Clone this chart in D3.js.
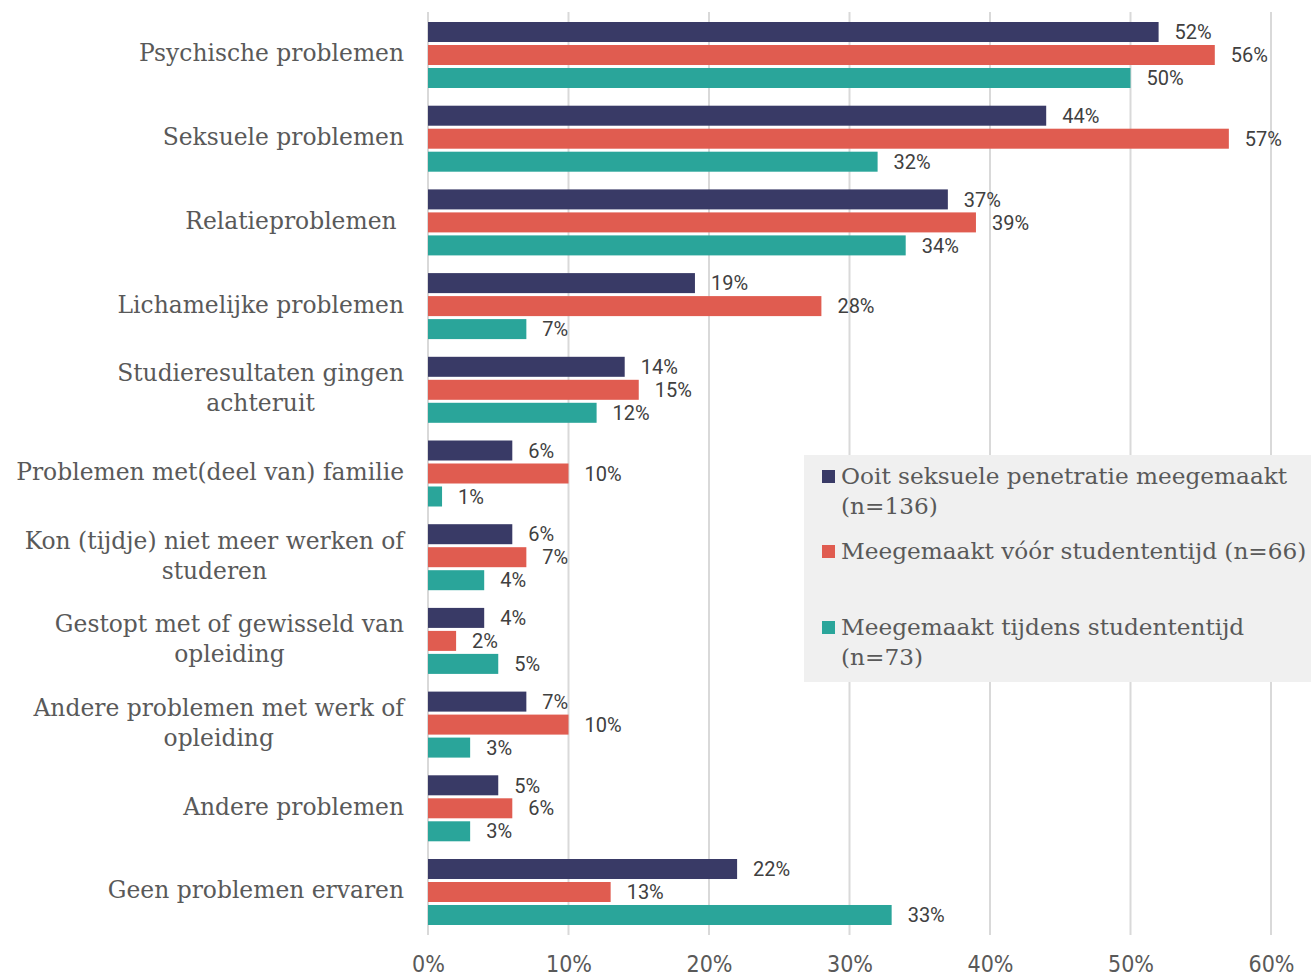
<!DOCTYPE html>
<html>
<head>
<meta charset="utf-8">
<script src="https://cdn.jsdelivr.net/npm/d3@7"></script>
<style>
  body { margin: 0; background: #fff; }
  .cat { font-family: 'DejaVu Serif', serif; font-size: 23.4px; fill: #595959; }
  .val { font-family: Roboto, 'Noto Sans', sans-serif; font-size: 20px; fill: #404040; }
  .tick text { font-family: 'Liberation Sans Narrow', 'DejaVu Sans Condensed', sans-serif; font-size: 23px; fill: #595959; }
  .leg { font-family: 'DejaVu Serif', serif; font-size: 23.2px; fill: #595959; }
</style>
</head>
<body>
<svg width="1311" height="976"></svg>
<script>
// categories (multi-line labels split with |)
var categories = [
    'Psychische problemen',
    'Seksuele problemen',
    'Relatieproblemen ',
    'Lichamelijke problemen',
    'Studieresultaten gingen|achteruit',
    'Problemen met(deel van) familie',
    'Kon (tijdje) niet meer werken of|studeren',
    'Gestopt met of gewisseld van|opleiding',
    'Andere problemen met werk of|opleiding',
    'Andere problemen',
    'Geen problemen ervaren'
];
var series = ['ooit', 'voor', 'tijdens'];
var seriesLabels = [
    'Ooit seksuele penetratie meegemaakt|(n=136)',
    'Meegemaakt vóór studententijd (n=66)',
    'Meegemaakt tijdens studententijd|(n=73)'
];
var colors = ['#393a66', '#e05c50', '#2aa59a'];
// values in percent
var ooit    = [52, 44, 37, 19, 14, 6, 6, 4, 7, 5, 22];
var voor    = [56, 57, 39, 28, 15, 10, 7, 2, 10, 6, 13];
var tijdens = [50, 32, 34, 7, 12, 1, 4, 5, 3, 3, 33];
var xTicks = [0, 10, 20, 30, 40, 50, 60];

var values = [ooit, voor, tijdens];
var svg = d3.select('svg');

var x = d3.scaleLinear().domain([0, 60]).range([428, 1271]);
var y0 = d3.scaleBand().domain(categories).range([4.3, 942.7]).padding(0.2115);
var y1 = d3.scaleBand().domain(series).range([0, y0.bandwidth()]).paddingInner(0.13);

// gridlines
svg.append('g').selectAll('line')
    .data(xTicks).enter().append('line')
    .attr('x1', d => x(d)).attr('x2', d => x(d))
    .attr('y1', 12).attr('y2', 935)
    .attr('stroke', '#d9d9d9').attr('stroke-width', 2);

// x axis labels
var xAxis = d3.axisBottom(x).tickValues(xTicks).tickSize(0).tickPadding(0)
    .tickFormat(d => d + '%');
var axG = svg.append('g').attr('transform', 'translate(0,956)').call(xAxis);
axG.select('.domain').remove();
axG.selectAll('text').attr('dy', '0.71em');

// bars
var groups = svg.append('g').selectAll('g')
    .data(categories).enter().append('g')
    .attr('transform', d => 'translate(0,' + y0(d) + ')');

groups.each(function(cat, ci) {
    var g = d3.select(this);
    series.forEach(function(s, si) {
        var v = values[si][ci];
        g.append('rect')
            .attr('x', x(0)).attr('y', y1(s))
            .attr('width', x(v) - x(0)).attr('height', y1.bandwidth())
            .attr('fill', colors[si]);
        g.append('text').attr('class', 'val')
            .attr('x', x(v) + 16).attr('y', y1(s) + y1.bandwidth() / 2)
            .attr('dy', '0.36em')
            .text(v + '%');
    });
    // category label
    var lines = cat.split('|');
    var lh = 30;
    var cy = y0.bandwidth() / 2 - 2;
    var t = g.append('text').attr('class', 'cat').attr('text-anchor', 'end');
    lines.forEach(function(l, li) {
        t.append('tspan')
            .attr('x', 404)
            .attr('y', cy + (li - (lines.length - 1) / 2) * lh)
            .attr('dy', '0.36em')
            .attr('xml:space', 'preserve')
            .text(l);
    });
    if (lines.length > 1) {
        // second line is centred under the first in the reference
        var w0 = t.select('tspan').node().getComputedTextLength();
        t.selectAll('tspan').filter((d, i) => i > 0)
            .attr('text-anchor', 'middle').attr('x', 404 - w0 / 2);
    }
});

// legend
var leg = svg.append('g');
leg.append('rect').attr('x', 804).attr('y', 455).attr('width', 507).attr('height', 227).attr('fill', '#f0f0f0');
var legY = [476, 551, 627];
seriesLabels.forEach(function(lbl, i) {
    leg.append('rect').attr('x', 822).attr('y', legY[i] - 6).attr('width', 13).attr('height', 13).attr('fill', colors[i]);
    var t = leg.append('text').attr('class', 'leg');
    lbl.split('|').forEach(function(l, li) {
        t.append('tspan').attr('x', 841).attr('y', legY[i] + li * 30).attr('dy', '0.36em').text(l);
    });
});
</script>
</body>
</html>
